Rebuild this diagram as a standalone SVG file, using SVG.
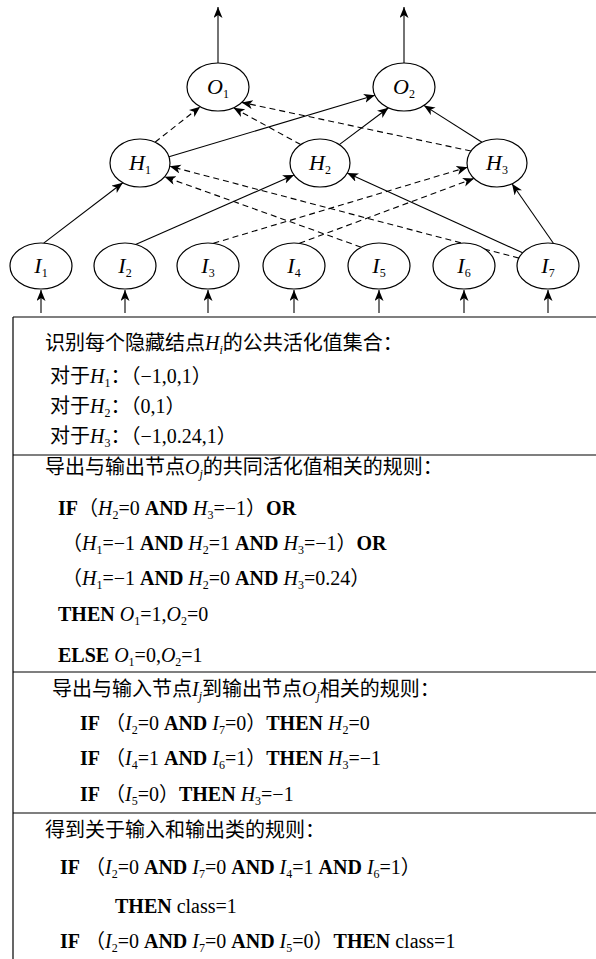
<svg xmlns="http://www.w3.org/2000/svg" width="596" height="959" viewBox="0 0 596 959">
<style>
.node ellipse{fill:#fff;stroke:#000;stroke-width:1.2}
.lbl{font-family:"Liberation Serif",serif;font-size:22px;text-anchor:middle}
.i{font-style:italic}
.s{font-size:12px;font-style:normal}
.si{font-size:12px;font-style:italic}
.edge{stroke:#000;stroke-width:1.1;fill:none}
.dash{stroke-dasharray:6 4}
.t{font-family:"Liberation Serif","Noto Sans CJK SC",serif;font-size:20px;fill:#000}
.b{font-weight:bold}
.frame{stroke:#000;stroke-width:1.2;fill:none}
</style>
<defs>
<marker id="ah" markerUnits="userSpaceOnUse" markerWidth="12" markerHeight="10" refX="11" refY="4.5" orient="auto">
<path d="M0,0 L11,4.5 L0,9 L3,4.5 z" fill="#000"/>
</marker>
</defs>
<g id="connectors">
<line class="edge" x1="218" y1="63" x2="218" y2="7" marker-end="url(#ah)"/>
<line class="edge" x1="404" y1="63" x2="404" y2="7" marker-end="url(#ah)"/>
<line class="edge" x1="41" y1="313" x2="41" y2="290" marker-end="url(#ah)"/>
<line class="edge" x1="125" y1="313" x2="125" y2="290" marker-end="url(#ah)"/>
<line class="edge" x1="208" y1="313" x2="208" y2="290" marker-end="url(#ah)"/>
<line class="edge" x1="294" y1="313" x2="294" y2="290" marker-end="url(#ah)"/>
<line class="edge" x1="379" y1="313" x2="379" y2="290" marker-end="url(#ah)"/>
<line class="edge" x1="464" y1="313" x2="464" y2="290" marker-end="url(#ah)"/>
<line class="edge" x1="548" y1="313" x2="548" y2="290" marker-end="url(#ah)"/>
<line class="edge" x1="43.7" y1="243.1" x2="122.8" y2="182.7" marker-end="url(#ah)"/>
<line class="edge" x1="135.6" y1="244.4" x2="294" y2="175" marker-end="url(#ah)"/>
<line class="edge dash" x1="213.4" y1="243.3" x2="467.5" y2="167.2" marker-end="url(#ah)"/>
<line class="edge dash" x1="299.4" y1="243.3" x2="474" y2="178.4" marker-end="url(#ah)"/>
<line class="edge dash" x1="361.2" y1="247.2" x2="164.6" y2="176.8" marker-end="url(#ah)"/>
<line class="edge dash" x1="518.9" y1="258.1" x2="169.7" y2="166.3" marker-end="url(#ah)"/>
<line class="edge" x1="522.6" y1="252.8" x2="347.2" y2="173.1" marker-end="url(#ah)"/>
<line class="edge" x1="553.4" y1="243.3" x2="512" y2="183.8" marker-end="url(#ah)"/>
<line class="edge dash" x1="155" y1="142.2" x2="200.2" y2="106.7" marker-end="url(#ah)"/>
<line class="edge dash" x1="300.7" y1="144.6" x2="233.5" y2="107.8" marker-end="url(#ah)"/>
<line class="edge dash" x1="471" y1="151" x2="241.7" y2="102.4" marker-end="url(#ah)"/>
<line class="edge" x1="169" y1="156.8" x2="374.9" y2="95.2" marker-end="url(#ah)"/>
<line class="edge" x1="339.3" y1="144.6" x2="388.5" y2="107.8" marker-end="url(#ah)"/>
<line class="edge" x1="482" y1="142.2" x2="423.9" y2="105.4" marker-end="url(#ah)"/>
</g>
<g id="O1" class="node"><ellipse cx="218" cy="87" rx="31" ry="24"/><text class="lbl" x="218" y="94"><tspan class="i">O</tspan><tspan class="s" dy="4">1</tspan></text></g>
<g id="O2" class="node"><ellipse cx="404" cy="87" rx="31" ry="24"/><text class="lbl" x="404" y="94"><tspan class="i">O</tspan><tspan class="s" dy="4">2</tspan></text></g>
<g id="H1" class="node"><ellipse cx="140" cy="163" rx="30" ry="24"/><text class="lbl" x="140" y="170"><tspan class="i">H</tspan><tspan class="s" dy="4">1</tspan></text></g>
<g id="H2" class="node"><ellipse cx="320" cy="163" rx="30" ry="24"/><text class="lbl" x="320" y="170"><tspan class="i">H</tspan><tspan class="s" dy="4">2</tspan></text></g>
<g id="H3" class="node"><ellipse cx="497" cy="163" rx="30" ry="24"/><text class="lbl" x="497" y="170"><tspan class="i">H</tspan><tspan class="s" dy="4">3</tspan></text></g>
<g id="I1" class="node"><ellipse cx="41" cy="266" rx="31" ry="23"/><text class="lbl" x="41" y="273"><tspan class="i">I</tspan><tspan class="s" dy="4">1</tspan></text></g>
<g id="I2" class="node"><ellipse cx="125" cy="266" rx="31" ry="23"/><text class="lbl" x="125" y="273"><tspan class="i">I</tspan><tspan class="s" dy="4">2</tspan></text></g>
<g id="I3" class="node"><ellipse cx="208" cy="266" rx="31" ry="23"/><text class="lbl" x="208" y="273"><tspan class="i">I</tspan><tspan class="s" dy="4">3</tspan></text></g>
<g id="I4" class="node"><ellipse cx="294" cy="266" rx="31" ry="23"/><text class="lbl" x="294" y="273"><tspan class="i">I</tspan><tspan class="s" dy="4">4</tspan></text></g>
<g id="I5" class="node"><ellipse cx="379" cy="266" rx="31" ry="23"/><text class="lbl" x="379" y="273"><tspan class="i">I</tspan><tspan class="s" dy="4">5</tspan></text></g>
<g id="I6" class="node"><ellipse cx="464" cy="266" rx="31" ry="23"/><text class="lbl" x="464" y="273"><tspan class="i">I</tspan><tspan class="s" dy="4">6</tspan></text></g>
<g id="I7" class="node"><ellipse cx="548" cy="266" rx="31" ry="23"/><text class="lbl" x="548" y="273"><tspan class="i">I</tspan><tspan class="s" dy="4">7</tspan></text></g>
<g id="frame" class="frame">
<line x1="13" y1="317" x2="13" y2="959"/>
<line x1="13" y1="317" x2="596" y2="317"/>
<line x1="13" y1="455" x2="596" y2="455"/>
<line x1="13" y1="672" x2="596" y2="672"/>
<line x1="13" y1="813" x2="596" y2="813"/>
</g>
<g id="section1" class="t">
<text x="45" y="350">识别每个隐藏结点<tspan class="i">H</tspan><tspan class="si" dy="4">i</tspan><tspan dy="-4">的公共活化值集合：</tspan></text>
<text x="50" y="383">对于<tspan class="i">H</tspan><tspan class="s" dy="4">1</tspan><tspan dy="-4">：（−1,0,1）</tspan></text>
<text x="50" y="413">对于<tspan class="i">H</tspan><tspan class="s" dy="4">2</tspan><tspan dy="-4">：（0,1）</tspan></text>
<text x="50" y="443">对于<tspan class="i">H</tspan><tspan class="s" dy="4">3</tspan><tspan dy="-4">：（−1,0.24,1）</tspan></text>
</g>
<g id="section2" class="t">
<text x="45" y="474">导出与输出节点<tspan class="i">O</tspan><tspan class="si" dy="4">j</tspan><tspan dy="-4">的共同活化值相关的规则：</tspan></text>
<text x="58" y="515"><tspan class="b">IF</tspan>（<tspan class="i">H</tspan><tspan class="s" dy="4">2</tspan><tspan dy="-4">=0 </tspan><tspan class="b">AND</tspan> <tspan class="i">H</tspan><tspan class="s" dy="4">3</tspan><tspan dy="-4">=−1）</tspan><tspan class="b">OR</tspan></text>
<text x="62" y="550">（<tspan class="i">H</tspan><tspan class="s" dy="4">1</tspan><tspan dy="-4">=−1 </tspan><tspan class="b">AND</tspan> <tspan class="i">H</tspan><tspan class="s" dy="4">2</tspan><tspan dy="-4">=1 </tspan><tspan class="b">AND</tspan> <tspan class="i">H</tspan><tspan class="s" dy="4">3</tspan><tspan dy="-4">=−1）</tspan><tspan class="b">OR</tspan></text>
<text x="62" y="585">（<tspan class="i">H</tspan><tspan class="s" dy="4">1</tspan><tspan dy="-4">=−1 </tspan><tspan class="b">AND</tspan> <tspan class="i">H</tspan><tspan class="s" dy="4">2</tspan><tspan dy="-4">=0 </tspan><tspan class="b">AND</tspan> <tspan class="i">H</tspan><tspan class="s" dy="4">3</tspan><tspan dy="-4">=0.24）</tspan></text>
<text x="58" y="621"><tspan class="b">THEN</tspan> <tspan class="i">O</tspan><tspan class="s" dy="4">1</tspan><tspan dy="-4">=1,</tspan><tspan class="i">O</tspan><tspan class="s" dy="4">2</tspan><tspan dy="-4">=0</tspan></text>
<text x="58" y="662"><tspan class="b">ELSE</tspan> <tspan class="i">O</tspan><tspan class="s" dy="4">1</tspan><tspan dy="-4">=0,</tspan><tspan class="i">O</tspan><tspan class="s" dy="4">2</tspan><tspan dy="-4">=1</tspan></text>
</g>
<g id="section3" class="t">
<text x="52" y="696">导出与输入节点<tspan class="i">I</tspan><tspan class="si" dy="4">j</tspan><tspan dy="-4">到输出节点</tspan><tspan class="i">O</tspan><tspan class="si" dy="4">j</tspan><tspan dy="-4">相关的规则：</tspan></text>
<text x="80" y="730"><tspan class="b">IF</tspan> （<tspan class="i">I</tspan><tspan class="s" dy="4">2</tspan><tspan dy="-4">=0 </tspan><tspan class="b">AND</tspan> <tspan class="i">I</tspan><tspan class="s" dy="4">7</tspan><tspan dy="-4">=0）</tspan><tspan class="b">THEN</tspan> <tspan class="i">H</tspan><tspan class="s" dy="4">2</tspan><tspan dy="-4">=0</tspan></text>
<text x="80" y="765"><tspan class="b">IF</tspan> （<tspan class="i">I</tspan><tspan class="s" dy="4">4</tspan><tspan dy="-4">=1 </tspan><tspan class="b">AND</tspan> <tspan class="i">I</tspan><tspan class="s" dy="4">6</tspan><tspan dy="-4">=1）</tspan><tspan class="b">THEN</tspan> <tspan class="i">H</tspan><tspan class="s" dy="4">3</tspan><tspan dy="-4">=−1</tspan></text>
<text x="80" y="801"><tspan class="b">IF</tspan> （<tspan class="i">I</tspan><tspan class="s" dy="4">5</tspan><tspan dy="-4">=0）</tspan><tspan class="b">THEN</tspan> <tspan class="i">H</tspan><tspan class="s" dy="4">3</tspan><tspan dy="-4">=−1</tspan></text>
</g>
<g id="section4" class="t">
<text x="45" y="837">得到关于输入和输出类的规则：</text>
<text x="60" y="874"><tspan class="b">IF</tspan> （<tspan class="i">I</tspan><tspan class="s" dy="4">2</tspan><tspan dy="-4">=0 </tspan><tspan class="b">AND</tspan> <tspan class="i">I</tspan><tspan class="s" dy="4">7</tspan><tspan dy="-4">=0 </tspan><tspan class="b">AND</tspan> <tspan class="i">I</tspan><tspan class="s" dy="4">4</tspan><tspan dy="-4">=1 </tspan><tspan class="b">AND</tspan> <tspan class="i">I</tspan><tspan class="s" dy="4">6</tspan><tspan dy="-4">=1）</tspan></text>
<text x="115" y="913"><tspan class="b">THEN</tspan> class=1</text>
<text x="60" y="948"><tspan class="b">IF</tspan> （<tspan class="i">I</tspan><tspan class="s" dy="4">2</tspan><tspan dy="-4">=0 </tspan><tspan class="b">AND</tspan> <tspan class="i">I</tspan><tspan class="s" dy="4">7</tspan><tspan dy="-4">=0 </tspan><tspan class="b">AND</tspan> <tspan class="i">I</tspan><tspan class="s" dy="4">5</tspan><tspan dy="-4">=0）</tspan><tspan class="b">THEN</tspan> class=1</text>
</g>
</svg>
